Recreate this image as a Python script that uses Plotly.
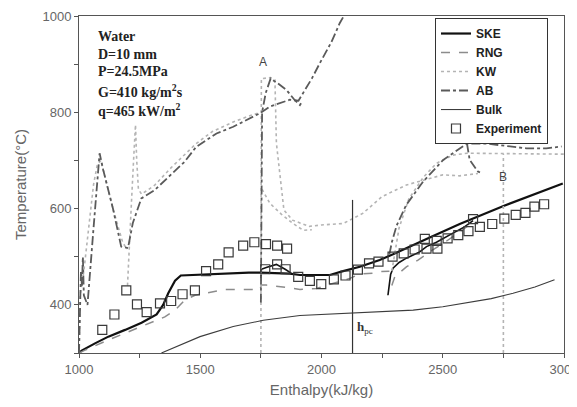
import plotly.graph_objects as go

# ---------------- data ----------------
# SKE (main curve)
ske_x = [1000, 1011, 1066, 1121, 1190, 1258, 1320, 1347, 1368, 1396, 1420, 1464, 1500, 1601, 1700, 1746,
         1800, 1869, 1911, 2034, 2089, 2158, 2240, 2295, 2433, 2570, 2748, 2995]
ske_y = [300, 305, 320, 334, 348, 363, 380, 400, 424, 450, 461, 462, 463, 466, 467, 467,
         466, 465, 462, 462, 470, 479, 493, 505, 537, 568, 605, 652]
# SKE restarted branches (at A and near 2290)
ske_a_x = [1750, 1752, 1775, 1814, 1850, 1875]
ske_a_y = [455, 474, 478, 484, 474, 466]
ske_b_x = [2274, 2278, 2285, 2295, 2320, 2350, 2405, 2433, 2474, 2542, 2584, 2625]
ske_b_y = [420, 440, 463, 476, 488, 497, 510, 521, 530, 549, 560, 575]

# RNG
rng_x = [1000, 1025, 1121, 1258, 1354, 1396, 1437, 1478, 1533, 1601, 1700, 1746, 1752, 1773, 1856, 1911,
         1979, 2048, 2117, 2158, 2213, 2240, 2280]
rng_y = [300, 306, 327, 355, 375, 389, 410, 420, 426, 432, 432, 431, 441, 441, 436, 432,
         434, 445, 455, 464, 466, 469, 470]
rng_b_x = [2290, 2302, 2350, 2398, 2446, 2500, 2560, 2620]
rng_b_y = [440, 458, 479, 493, 510, 527, 548, 570]

# KW
kw_x = [1000, 1005, 1020, 1040, 1060, 1075, 1090, 1140, 1180, 1198]
kw_y = [300, 420, 470, 560, 650, 690, 700, 600, 530, 515]
kw_b_x = [1200, 1205, 1215, 1225, 1233, 1238, 1245, 1258, 1311, 1380, 1435, 1483, 1550, 1636, 1700, 1748]
kw_b_y = [440, 500, 600, 700, 774, 700, 640, 630, 648, 685, 712, 735, 760, 780, 792, 800]
kw_a_x = [1750, 1752, 1790, 1808, 1814, 1835, 1845, 1880, 1950, 2000, 2090, 2170, 2250, 2350, 2420, 2500, 2570, 2645]
kw_a_y = [300, 870, 872, 867, 736, 645, 597, 576, 563, 566, 569, 590, 625, 649, 659, 670, 668, 673]
kw_a2_x = [1755, 1787, 1835, 1880, 1924, 1960]
kw_a2_y = [640, 611, 588, 570, 555, 556]
kw_c_x = [2290, 2320, 2360, 2420, 2474, 2542, 2600, 2750, 3000]
kw_c_y = [470, 560, 620, 665, 694, 711, 715, 714, 713]
kw_bb_x = [2750, 2750]
kw_bb_y = [300, 714]

# AB
ab_x = [1000, 1003, 1008, 1012, 1016, 1020, 1035, 1060, 1085, 1100, 1140, 1174, 1202, 1222, 1257, 1311, 1380,
        1435, 1483, 1567, 1636, 1746, 1787, 1830, 1869, 1905, 1924, 1960, 1993, 2040, 2075, 2092]
ab_y = [300, 400, 470, 440, 500, 420, 400, 560, 715, 680, 600, 521, 518, 570, 621, 638, 670,
        697, 728, 756, 770, 798, 812, 820, 826, 824, 840, 870, 902, 945, 985, 1000]
ab_a_x = [1750, 1752, 1755, 1770, 1790, 1820, 1856, 1890, 1911, 1922]
ab_a_y = [405, 600, 800, 840, 870, 860, 846, 825, 815, 824]
ab_b_x = [2280, 2290, 2310, 2350, 2419, 2502, 2570, 2600, 2680, 2776, 2845, 2927, 2990]
ab_b_y = [505, 530, 565, 608, 656, 701, 725, 735, 735, 729, 725, 725, 729]
ab_c_x = [2600, 2611, 2645, 2655]
ab_c_y = [735, 701, 677, 675]

# Bulk
bulk_x = [1340, 1400, 1499, 1636, 1760, 1911, 2103, 2378, 2500, 2584, 2700, 2790, 2880, 2961]
bulk_y = [300, 313, 334, 355, 368, 378, 383, 389, 396, 403, 413, 424, 437, 452]

# Experiment
exp_x = [1096, 1146, 1195, 1239, 1279, 1334, 1380, 1427, 1478, 1524, 1574, 1617, 1677, 1723, 1771, 1817, 1858,
         1768, 1817, 1852, 1904, 1952, 1999, 2051, 2099, 2150, 2196, 2235, 2293, 2339, 2384, 2433, 2478,
         2426, 2475, 2520, 2564, 2606, 2625, 2653, 2704, 2754, 2801, 2841, 2878, 2918]
exp_y = [348, 380, 430, 401, 385, 403, 408, 422, 430, 470, 484, 509, 523, 530, 526, 523, 517,
         474, 484, 474, 458, 450, 443, 453, 461, 473, 486, 490, 500, 507, 515, 517, 517,
         537, 533, 538, 545, 553, 578, 562, 568, 579, 587, 591, 604, 609]

# h_pc marker
hpc_x = [2128, 2128]
hpc_y = [300, 618]

param_lines = ["Water", "D=10 mm", "P=24.5MPa", "G=410 kg/m<sup>2</sup>s", "q=465 kW/m<sup>2</sup>"]
param_y = [0.940, 0.886, 0.834, 0.778, 0.720]

x_ticks = [1000, 1500, 2000, 2500, 3000]
y_ticks = [400, 600, 800, 1000]


def join(*segs):
    xs, ys = [], []
    for i, (sx, sy) in enumerate(segs):
        if i:
            xs.append(None)
            ys.append(None)
        xs += sx
        ys += sy
    return xs, ys


fig = go.Figure()

SKE = dict(color="#111111", width=2.2)
RNG = dict(color="#8c8c8c", width=1.5, dash="dash")
KW = dict(color="#b4b4b4", width=1.6, dash="dot")
AB = dict(color="#5a5a5a", width=1.8, dash="dashdot")
BULK = dict(color="#3c3c3c", width=1.1)

x, y = join((ske_x, ske_y))
fig.add_trace(go.Scatter(x=x, y=y, mode="lines", name="SKE", line=SKE))
x, y = join((ske_a_x, ske_a_y), (ske_b_x, ske_b_y))
fig.add_trace(go.Scatter(x=x, y=y, mode="lines", showlegend=False, line=dict(color="#111111", width=1.6)))
x, y = join((rng_x, rng_y), (rng_b_x, rng_b_y))
fig.add_trace(go.Scatter(x=x, y=y, mode="lines", name="RNG", line=RNG))
x, y = join((kw_x, kw_y), (kw_b_x, kw_b_y), (kw_a_x, kw_a_y), (kw_a2_x, kw_a2_y), (kw_c_x, kw_c_y), (kw_bb_x, kw_bb_y))
fig.add_trace(go.Scatter(x=x, y=y, mode="lines", name="KW", line=KW))
x, y = join((ab_x, ab_y), (ab_a_x, ab_a_y), (ab_b_x, ab_b_y), (ab_c_x, ab_c_y))
fig.add_trace(go.Scatter(x=x, y=y, mode="lines", name="AB", line=AB))
fig.add_trace(go.Scatter(x=bulk_x, y=bulk_y, mode="lines", name="Bulk", line=BULK))
fig.add_trace(go.Scatter(x=exp_x, y=exp_y, mode="markers", name="Experiment",
                         marker=dict(symbol="square-open", size=9, color="#3a3a3a", line=dict(width=1.2))))
fig.add_trace(go.Scatter(x=hpc_x, y=hpc_y, mode="lines", showlegend=False, line=dict(color="#333333", width=1.2)))

for txt, py in zip(param_lines, param_y):
    fig.add_annotation(x=0.036, y=py, xref="paper", yref="paper", text="<b>" + txt + "</b>", showarrow=False,
                       xanchor="left", yanchor="middle",
                       font=dict(family="Liberation Serif", size=14, color="#222222"))
fig.add_annotation(x=1758, y=904, text="A", showarrow=False, font=dict(family="Liberation Sans", size=12, color="#444"))
fig.add_annotation(x=2747, y=666, text="B", showarrow=False, font=dict(family="Liberation Sans", size=12, color="#444"))
fig.add_annotation(x=2140, y=352, text="<b>h</b><sub>pc</sub>", showarrow=False, xanchor="left",
                   font=dict(family="Liberation Serif", size=13, color="#333"))

axis_common = dict(showline=True, linecolor="#555555", linewidth=1, mirror=True, showgrid=False, zeroline=False,
                   ticks="outside", ticklen=4, tickcolor="#555555", automargin=False,
                   ticklabeloverflow="allow",
                   tickfont=dict(family="Liberation Sans", size=13, color="#666666"))
fig.update_xaxes(range=[1000, 3000], tickvals=x_ticks,
                 minor=dict(ticks="outside", ticklen=4, dtick=250, tick0=1000, tickcolor="#555555"),
                 title=dict(text="Enthalpy(kJ/kg)", standoff=8,
                            font=dict(family="Liberation Sans", size=15, color="#666666")),
                 **axis_common)
fig.update_yaxes(range=[300, 1000], tickvals=y_ticks,
                 minor=dict(ticks="outside", ticklen=4, dtick=100, tick0=300, tickcolor="#555555"),
                 title=dict(text="Temperature(°C)", standoff=12,
                            font=dict(family="Liberation Sans", size=15, color="#666666")),
                 **axis_common)

# the page body adds an 8 px offset, so the figure is sized to fit inside the window
fig.update_layout(
    width=569, height=399,
    margin=dict(l=71, r=13, t=8, b=54),
    plot_bgcolor="white", paper_bgcolor="white",
    legend=dict(x=0.734, y=0.994, xanchor="left", yanchor="top", bgcolor="white",
                bordercolor="#333333", borderwidth=1, tracegroupgap=0,
                font=dict(family="Liberation Sans", size=12, color="#222222", weight="bold")),
)

fig.write_html("out.html")
